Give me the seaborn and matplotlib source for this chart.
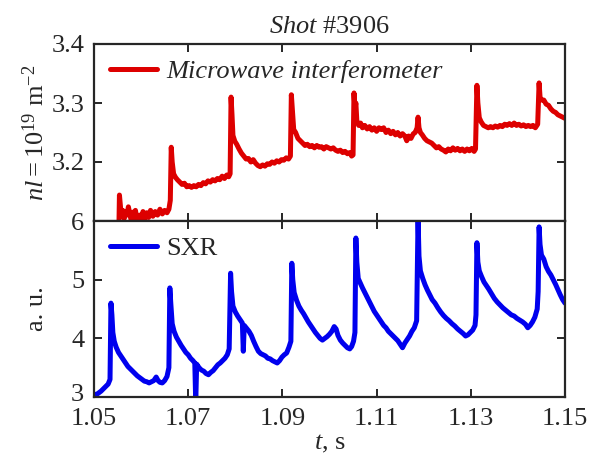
import numpy as np
import pandas as pd
import matplotlib
matplotlib.use("Agg")
import matplotlib.pyplot as plt
import matplotlib.transforms as mtransforms
import seaborn as sns

# ---------------- data ----------------
t_mw = [1.0553, 1.0554, 1.0556, 1.0558, 1.0561, 1.0564, 1.0567, 1.0570, 1.0573, 1.0576,
        1.0579, 1.0582, 1.0585, 1.0588, 1.0591, 1.0594, 1.0597, 1.0600, 1.0604, 1.0608,
        1.0612, 1.0616, 1.0620, 1.0625, 1.0630, 1.0635, 1.0640, 1.0645, 1.0650, 1.0655,
        1.0659, 1.0662, 1.0664, 1.0666, 1.0669, 1.0673, 1.0677, 1.0682, 1.0687, 1.0692,
        1.0697, 1.0702, 1.0707, 1.0712, 1.0717, 1.0722, 1.0727, 1.0732, 1.0737, 1.0742,
        1.0747, 1.0752, 1.0757, 1.0762, 1.0767, 1.0772, 1.0777, 1.0782, 1.0786, 1.0789,
        1.0791, 1.0793, 1.0795, 1.0799, 1.0803, 1.0808, 1.0813, 1.0818, 1.0823, 1.0828,
        1.0833, 1.0838, 1.0843, 1.0848, 1.0853, 1.0858, 1.0863, 1.0868, 1.0873, 1.0878,
        1.0883, 1.0888, 1.0893, 1.0898, 1.0903, 1.0908, 1.0913, 1.0917, 1.0919, 1.0921,
        1.0924, 1.0928, 1.0933, 1.0938, 1.0943, 1.0948, 1.0953, 1.0958, 1.0963, 1.0968,
        1.0973, 1.0978, 1.0983, 1.0988, 1.0993, 1.0998, 1.1003, 1.1008, 1.1013, 1.1018,
        1.1023, 1.1028, 1.1033, 1.1038, 1.1043, 1.1047, 1.1050, 1.1052, 1.1054, 1.1056,
        1.1058, 1.1062, 1.1066, 1.1070, 1.1075, 1.1080, 1.1085, 1.1090, 1.1095, 1.1100,
        1.1105, 1.1110, 1.1115, 1.1120, 1.1125, 1.1130, 1.1135, 1.1140, 1.1145, 1.1150,
        1.1155, 1.1160, 1.1164, 1.1168, 1.1173, 1.1178, 1.1182, 1.1186, 1.1188, 1.1190,
        1.1193, 1.1197, 1.1202, 1.1207, 1.1212, 1.1217, 1.1222, 1.1227, 1.1232, 1.1237,
        1.1242, 1.1247, 1.1252, 1.1257, 1.1262, 1.1267, 1.1272, 1.1277, 1.1282, 1.1287,
        1.1292, 1.1297, 1.1302, 1.1307, 1.1310, 1.1313, 1.1315, 1.1318, 1.1322, 1.1327,
        1.1332, 1.1337, 1.1342, 1.1347, 1.1352, 1.1357, 1.1362, 1.1367, 1.1372, 1.1377,
        1.1382, 1.1387, 1.1392, 1.1397, 1.1402, 1.1407, 1.1412, 1.1417, 1.1422, 1.1427,
        1.1432, 1.1437, 1.1442, 1.1445, 1.1447, 1.1450, 1.1455, 1.1460, 1.1465, 1.1470,
        1.1475, 1.1480, 1.1485, 1.1490, 1.1495, 1.1500]
nl_mw = [3.095, 3.144, 3.125, 3.108, 3.118, 3.104, 3.116, 3.110, 3.124, 3.112,
         3.102, 3.115, 3.106, 3.118, 3.104, 3.098, 3.110, 3.102, 3.116, 3.104,
         3.114, 3.106, 3.118, 3.108, 3.116, 3.110, 3.120, 3.112, 3.118, 3.114,
         3.120, 3.135, 3.225, 3.200, 3.180, 3.174, 3.170, 3.166, 3.162, 3.164,
         3.158, 3.160, 3.157, 3.160, 3.158, 3.162, 3.160, 3.165, 3.163, 3.168,
         3.166, 3.170, 3.168, 3.172, 3.170, 3.176, 3.172, 3.178, 3.175, 3.180,
         3.310, 3.280, 3.245, 3.235, 3.230, 3.222, 3.215, 3.210, 3.205, 3.206,
         3.200, 3.204, 3.198, 3.194, 3.192, 3.195, 3.193, 3.197, 3.196, 3.200,
         3.198, 3.202, 3.200, 3.204, 3.203, 3.207, 3.205, 3.210, 3.314, 3.290,
         3.255, 3.250, 3.240, 3.236, 3.232, 3.228, 3.230, 3.226, 3.228, 3.224,
         3.228, 3.225, 3.226, 3.222, 3.226, 3.224, 3.222, 3.224, 3.220, 3.218,
         3.220, 3.216, 3.218, 3.214, 3.216, 3.210, 3.212, 3.317, 3.290, 3.300,
         3.270, 3.262, 3.266, 3.258, 3.262, 3.256, 3.260, 3.254, 3.258, 3.252,
         3.258, 3.255, 3.258, 3.250, 3.254, 3.248, 3.252, 3.246, 3.250, 3.244,
         3.248, 3.244, 3.236, 3.244, 3.240, 3.248, 3.250, 3.258, 3.276, 3.258,
         3.250, 3.246, 3.240, 3.236, 3.234, 3.232, 3.228, 3.224, 3.226, 3.222,
         3.220, 3.217, 3.222, 3.219, 3.224, 3.220, 3.223, 3.219, 3.222, 3.218,
         3.222, 3.219, 3.223, 3.218, 3.222, 3.330, 3.300, 3.275, 3.268, 3.262,
         3.260, 3.258, 3.260, 3.258, 3.261, 3.259, 3.262, 3.260, 3.264, 3.262,
         3.265, 3.262, 3.266, 3.262, 3.264, 3.261, 3.263, 3.260, 3.262, 3.260,
         3.262, 3.258, 3.264, 3.334, 3.310, 3.305, 3.305, 3.298, 3.296, 3.290,
         3.286, 3.284, 3.280, 3.278, 3.276, 3.274]

t_sxr = [1.0500, 1.0505, 1.0510, 1.0515, 1.0520, 1.0525, 1.0530, 1.0534, 1.0536, 1.0538,
         1.0540, 1.0543, 1.0547, 1.0552, 1.0557, 1.0562, 1.0567, 1.0572, 1.0577, 1.0582,
         1.0587, 1.0592, 1.0597, 1.0602, 1.0607, 1.0612, 1.0617, 1.0622, 1.0627, 1.0632,
         1.0636, 1.0640, 1.0645, 1.0650, 1.0655, 1.0659, 1.0661, 1.0663, 1.0666, 1.0670,
         1.0675, 1.0680, 1.0685, 1.0690, 1.0695, 1.0700, 1.0705, 1.0710, 1.0714, 1.0716,
         1.0718, 1.0723, 1.0728, 1.0733, 1.0738, 1.0743, 1.0748, 1.0753, 1.0758, 1.0763,
         1.0768, 1.0773, 1.0778, 1.0783, 1.0787, 1.0790, 1.0792, 1.0795, 1.0800, 1.0805,
         1.0810, 1.0815, 1.0817, 1.0819, 1.0824, 1.0829, 1.0834, 1.0839, 1.0844, 1.0849,
         1.0854, 1.0859, 1.0864, 1.0869, 1.0874, 1.0879, 1.0884, 1.0889, 1.0894, 1.0899,
         1.0904, 1.0909, 1.0914, 1.0918, 1.0920, 1.0922, 1.0925, 1.0930, 1.0935, 1.0940,
         1.0945, 1.0950, 1.0955, 1.0960, 1.0965, 1.0970, 1.0975, 1.0980, 1.0985, 1.0990,
         1.0995, 1.1000, 1.1005, 1.1010, 1.1014, 1.1018, 1.1023, 1.1028, 1.1033, 1.1038,
         1.1043, 1.1047, 1.1051, 1.1054, 1.1056, 1.1058, 1.1061, 1.1065, 1.1070, 1.1075,
         1.1080, 1.1085, 1.1090, 1.1095, 1.1100, 1.1105, 1.1110, 1.1115, 1.1120, 1.1125,
         1.1130, 1.1135, 1.1140, 1.1145, 1.1150, 1.1155, 1.1160, 1.1165, 1.1170, 1.1175,
         1.1180, 1.1185, 1.1188, 1.1190, 1.1193, 1.1198, 1.1203, 1.1208, 1.1213, 1.1218,
         1.1224, 1.1230, 1.1236, 1.1242, 1.1248, 1.1254, 1.1260, 1.1266, 1.1272, 1.1278,
         1.1284, 1.1289, 1.1294, 1.1299, 1.1304, 1.1309, 1.1311, 1.1313, 1.1315, 1.1318,
         1.1323, 1.1328, 1.1333, 1.1338, 1.1344, 1.1350, 1.1356, 1.1362, 1.1368, 1.1374,
         1.1380, 1.1386, 1.1392, 1.1398, 1.1404, 1.1410, 1.1416, 1.1421, 1.1426, 1.1431,
         1.1436, 1.1441, 1.1443, 1.1445, 1.1447, 1.1450, 1.1455, 1.1460, 1.1465, 1.1470,
         1.1475, 1.1480, 1.1485, 1.1490, 1.1495, 1.1500]
sxr = [3.05, 3.04, 3.07, 3.10, 3.14, 3.18, 3.22, 3.30, 4.60, 4.40,
       4.10, 3.95, 3.85, 3.76, 3.70, 3.64, 3.58, 3.52, 3.48, 3.44,
       3.40, 3.36, 3.33, 3.30, 3.27, 3.26, 3.24, 3.26, 3.28, 3.34,
       3.28, 3.25, 3.24, 3.28, 3.35, 3.50, 4.86, 4.60, 4.25, 4.12,
       4.02, 3.95, 3.88, 3.82, 3.76, 3.72, 3.66, 3.62, 3.58, 2.90,
       3.56, 3.50, 3.46, 3.44, 3.40, 3.38, 3.42, 3.45, 3.50, 3.55,
       3.58, 3.62, 3.66, 3.72, 3.82, 5.11, 4.80, 4.55, 4.45, 4.38,
       4.32, 4.26, 3.78, 4.22, 4.17, 4.12, 4.05, 3.95, 3.86, 3.78,
       3.74, 3.72, 3.70, 3.66, 3.65, 3.62, 3.60, 3.58, 3.62, 3.68,
       3.72, 3.75, 3.85, 3.95, 5.28, 5.00, 4.78, 4.65, 4.55, 4.48,
       4.42, 4.35, 4.28, 4.22, 4.16, 4.10, 4.05, 4.00, 3.97, 4.00,
       4.03, 4.07, 4.12, 4.20, 4.16, 4.05, 3.97, 3.92, 3.88, 3.84,
       3.82, 3.86, 3.95, 4.10, 5.71, 5.30, 5.02, 4.95, 4.86, 4.78,
       4.70, 4.62, 4.54, 4.46, 4.40, 4.34, 4.28, 4.22, 4.18, 4.12,
       4.08, 4.04, 4.00, 3.96, 3.90, 3.84, 3.92, 3.98, 4.04, 4.12,
       4.18, 4.30, 6.05, 5.40, 5.15, 5.02, 4.91, 4.82, 4.74, 4.66,
       4.60, 4.52, 4.45, 4.39, 4.34, 4.30, 4.25, 4.21, 4.16, 4.12,
       4.08, 4.04, 4.06, 4.10, 4.14, 4.22, 4.40, 5.63, 5.30, 5.15,
       5.05, 4.96, 4.90, 4.84, 4.76, 4.68, 4.62, 4.57, 4.52, 4.48,
       4.44, 4.40, 4.38, 4.34, 4.31, 4.28, 4.24, 4.18, 4.22, 4.28,
       4.36, 4.50, 4.80, 5.90, 5.60, 5.42, 5.35, 5.22, 5.14, 5.08,
       5.00, 4.92, 4.83, 4.74, 4.66, 4.60]

x_ticks = [1.05, 1.07, 1.09, 1.11, 1.13, 1.15]
x_ticklabels = ["1.05", "1.07", "1.09", "1.11", "1.13", "1.15"]
top_yticks = [3.2, 3.3, 3.4]
bot_yticks = [3, 4, 5, 6]

# ---------------- style ----------------
sns.set_theme(style="ticks")
plt.rcParams["font.family"] = ["Liberation Serif", "DejaVu Serif"]
plt.rcParams["mathtext.fontset"] = "custom"
plt.rcParams["mathtext.rm"] = "Liberation Serif"
plt.rcParams["mathtext.it"] = "Liberation Serif:italic"
plt.rcParams["mathtext.bf"] = "Liberation Serif:bold"

ink = "#262626"
fs = 19

fig = plt.figure(figsize=(5.89, 4.55), dpi=100)
L, R = 94 / 589, 565 / 589
y_top, y_mid, y_bot = 1 - 44 / 455, 1 - 221 / 455, 1 - 397 / 455
ax1 = fig.add_axes([L, y_mid, R - L, y_top - y_mid])
ax2 = fig.add_axes([L, y_bot, R - L, y_mid - y_bot], sharex=ax1)

df_mw = pd.DataFrame({"t": t_mw, "nl": nl_mw})
df_sxr = pd.DataFrame({"t": t_sxr, "sxr": sxr})

sns.lineplot(data=df_mw, x="t", y="nl", ax=ax1, color="#dd0000", lw=3.6,
             estimator=None, sort=False, label="Microwave interferometer")
sns.lineplot(data=df_sxr, x="t", y="sxr", ax=ax2, color="#0000ee", lw=3.6,
             estimator=None, sort=False, label="SXR")

for ax in (ax1, ax2):
    ax.set_xlim(1.05, 1.15)
    ax.tick_params(direction="in", length=5.5, width=1.4, top=True, right=True,
                   labelsize=fs, colors=ink)
    ax.tick_params(axis="y", pad=7)
    ax.tick_params(axis="x", pad=8)
    for s in ax.spines.values():
        s.set_linewidth(1.6)
        s.set_color(ink)

ax1.set_ylim(3.1, 3.4)
ax1.set_yticks(top_yticks)
ax1.set_yticklabels(["3.2", "3.3", "3.4"])
ax1.tick_params(labelbottom=False)
ax1.set_xlabel("")
ax1.set_ylabel(r"$nl = 10^{19}\ \mathrm{m}^{-2}$", fontsize=fs, color=ink, labelpad=2)

ax2.set_ylim(3, 6)
ax2.set_yticks(bot_yticks)
ax2.set_xticks(x_ticks)
ax2.set_xticklabels(x_ticklabels)
ax2.set_ylabel("a. u.", fontsize=fs, color=ink, labelpad=17)
ax2.set_xlabel(r"$t$, s", fontsize=fs, color=ink, labelpad=2)

# nudge the lowest y tick label ("3") up a little so it clears "1.05"
lab3 = ax2.get_yticklabels()[0]
lab3.set_transform(lab3.get_transform() +
                   mtransforms.ScaledTranslation(0, 3 / 72, fig.dpi_scale_trans))

ax1.set_title(r"$\mathit{Shot}$ #3906", fontsize=fs, color=ink, pad=8)

for ax in (ax1, ax2):
    leg = ax.legend(loc="upper left", frameon=False, fontsize=fs, handlelength=1.8,
                    borderaxespad=0.2, handletextpad=0.35)
    for txt in leg.get_texts():
        txt.set_color(ink)
ax1.get_legend().get_texts()[0].set_fontstyle("italic")

fig.savefig("out.png", dpi=100)
